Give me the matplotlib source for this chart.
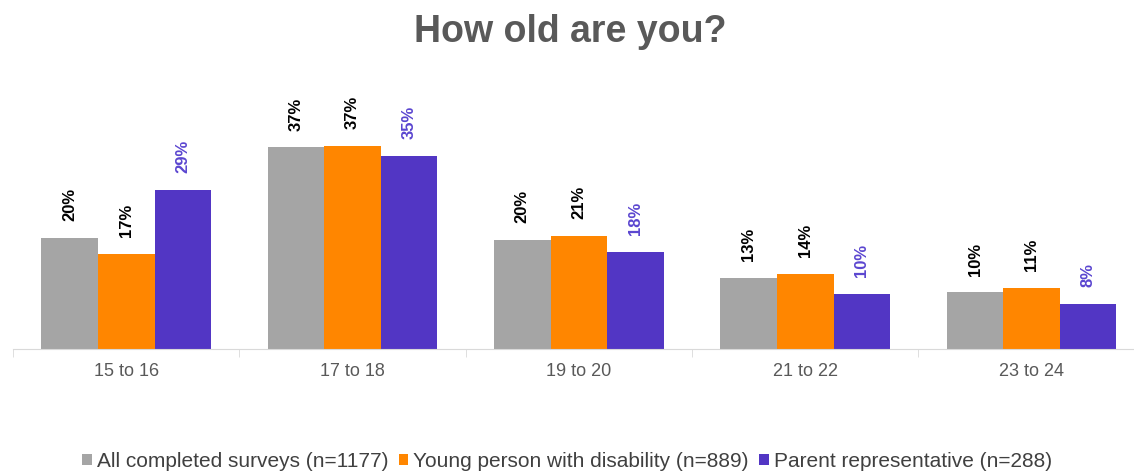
import matplotlib
matplotlib.use('Agg')
import matplotlib.pyplot as plt
import numpy as np

# --- data ---
categories = ['15 to 16', '17 to 18', '19 to 20', '21 to 22', '23 to 24']
series_names = ['All completed surveys (n=1177)',
                'Young person with disability (n=889)',
                'Parent representative (n=288)']
all_surveys = [20.4, 36.9, 20.0, 13.0, 10.4]
young_person = [17.4, 37.2, 20.7, 13.8, 11.2]
parent_rep = [29.1, 35.4, 17.8, 10.1, 8.3]

colors = ['#a5a5a5', '#ff8600', '#5236c4']
label_colors = ['#000000', '#000000', '#5b46d0']

plt.rcParams['font.family'] = ['Liberation Sans', 'DejaVu Sans']

fig = plt.figure(figsize=(11.34, 4.73), dpi=100)
ax = fig.add_axes([0.0115, 0.262, 0.998, 0.52])

x = np.arange(len(categories))
width = 0.25
data = [all_surveys, young_person, parent_rep]
for i, vals in enumerate(data):
    pos = x + (i - 1) * width
    ax.bar(pos, vals, width, color=colors[i], label=series_names[i])
    for p, v in zip(pos, vals):
        ax.annotate('%d%%' % round(v), xy=(p, v), xytext=(0, 12),
                    textcoords='offset points', rotation=90,
                    ha='center', va='bottom', fontsize=12,
                    fontweight='bold', color=label_colors[i])

ax.set_xlim(-0.5, len(categories) - 0.5)
ax.set_ylim(0, 45)
ax.set_yticks([])
for s in ['top', 'right', 'left']:
    ax.spines[s].set_visible(False)
ax.spines['bottom'].set_color('#d9d9d9')
ax.set_xticks(x)
ax.set_xticklabels(categories, fontsize=13, color='#595959')
ax.tick_params(axis='x', length=0, pad=10)
# boundary tick marks between categories
ax.set_xticks(np.arange(len(categories) + 1) - 0.5, minor=True)
ax.tick_params(axis='x', which='minor', length=6, color='#d9d9d9')

fig.text(0.5026, 0.911, 'How old are you?', ha='center', va='baseline',
         fontsize=27, fontweight='bold', color='#595959')

fig.legend(loc='center', bbox_to_anchor=(0.5, 0.025), ncol=3, frameon=False,
           fontsize=15, handlelength=0.45, handleheight=0.45,
           handletextpad=0.25, columnspacing=0.5, labelcolor='#404040')

plt.savefig('out.png', dpi=100)
